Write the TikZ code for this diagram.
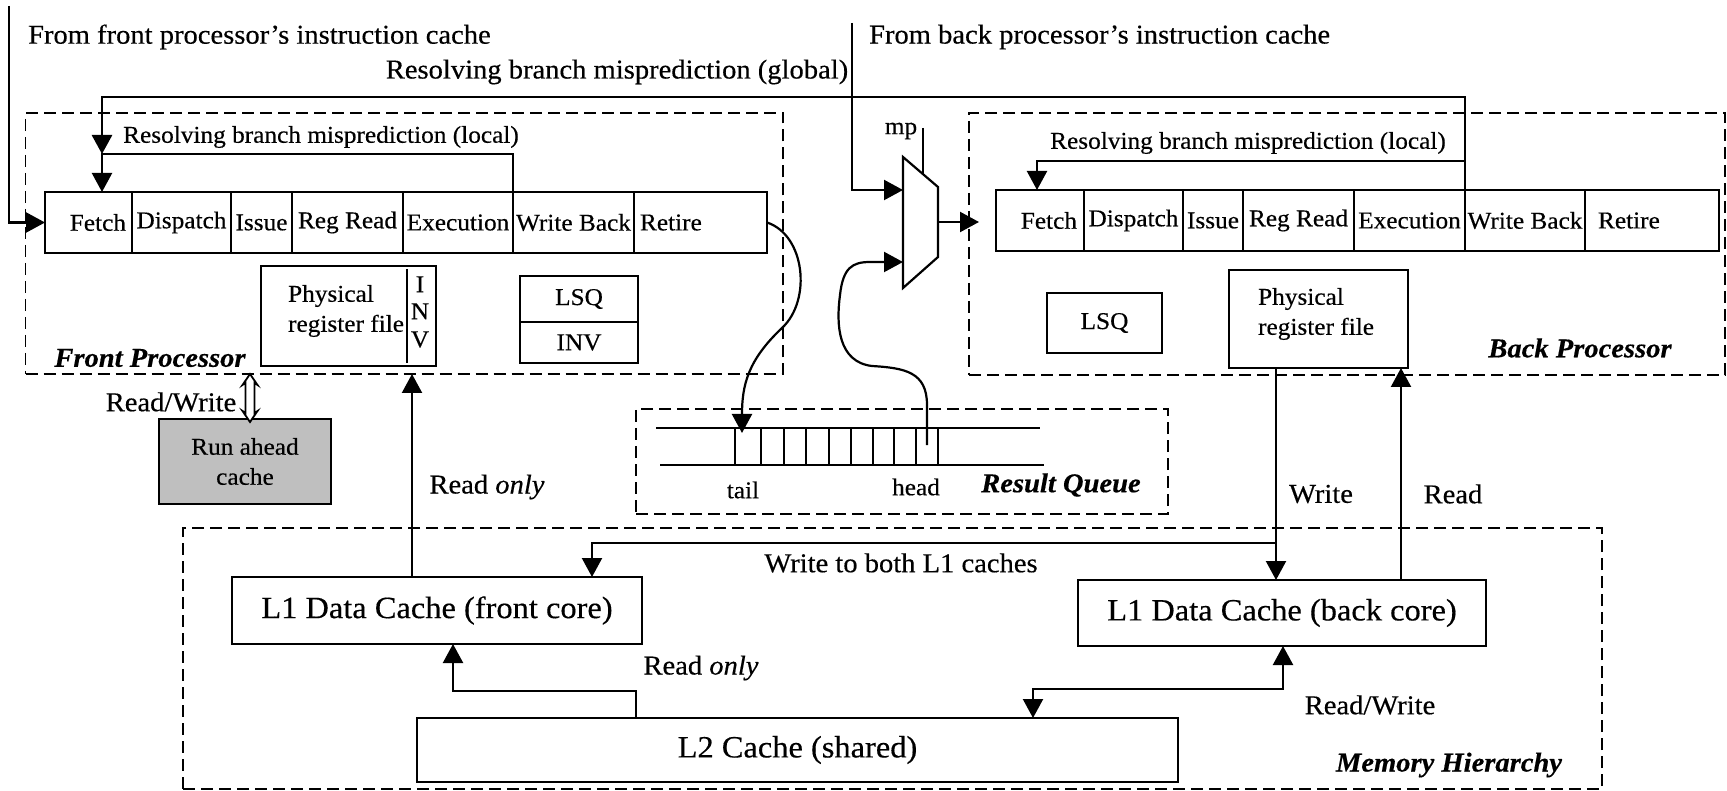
\documentclass[tikz,border=0pt]{standalone}
\usepackage{fontspec}
\setmainfont{Liberation Serif}[FakeStretch=1.05,FakeBold=0.4]
\usetikzlibrary{arrows.meta,calc}
\newcommand{\szS}{\fontsize{24.1}{30}\selectfont}
\newcommand{\szM}{\fontsize{27.2}{32}\selectfont}
\newcommand{\szL}{\fontsize{30.9}{36}\selectfont}

\begin{document}
\begin{tikzpicture}[x=1pt,y=-1pt,
  line width=2.2pt,
  >={Triangle[length=19pt,width=20pt]},
  box/.style={draw, line width=2.2pt, inner sep=0pt, outer sep=0pt, align=center},
  region/.style={draw, dash pattern=on 12pt off 6pt, line width=1.9pt, inner sep=0pt, outer sep=0pt},
  cell/.style={box, minimum height=61pt, font=\szS, anchor=west},
  lbl/.style={inner sep=0pt, font=\szM},
  slbl/.style={inner sep=0pt, font=\szS},
  tag/.style={inner sep=0pt, font=\szM\bfseries\itshape},
]
\fill[white] (0,0) rectangle (1727,791);
\useasboundingbox (0,0) rectangle (1727,791);

% ---------- dashed regions ----------
\node[region, minimum width=757.5, minimum height=261] (fp) at (404.25,243.5) {};
\node[region, minimum width=756, minimum height=262] (bp) at (1347,244) {};
\node[region, minimum width=532, minimum height=105] (rq) at (902,461.5) {};
\node[region, minimum width=1419, minimum height=261] (mh) at (892.5,658.5) {};

\node[tag] (fpT) at (150,358) {Front Processor};
\node[tag] (bpT) at (1580,348) {Back Processor};
\node[tag] (rqT) at (1061,485) {Result Queue};
\node[tag] (mhT) at (1449,765) {Memory Hierarchy};

% ---------- front pipeline ----------
\node[cell, minimum width=87, text width=75, align=right] (pf1) at (45,222.5) {Fetch};
\node[cell, minimum width=99]  (pf2) at (pf1.east) {Dispatch};
\node[cell, minimum width=61]  (pf3) at (pf2.east) {Issue};
\node[cell, minimum width=111] (pf4) at (pf3.east) {Reg Read};
\node[cell, minimum width=110] (pf5) at (pf4.east) {Execution};
\node[cell, minimum width=121] (pf6) at (pf5.east) {Write Back};
\node[cell, minimum width=133, text width=121, align=left] (pf7) at (pf6.east) {Retire};

% ---------- back pipeline ----------
\node[cell, minimum width=88, text width=74, align=right] (pb1) at (996,220.5) {Fetch};
\node[cell, minimum width=99]  (pb2) at (pb1.east) {Dispatch};
\node[cell, minimum width=60]  (pb3) at (pb2.east) {Issue};
\node[cell, minimum width=111] (pb4) at (pb3.east) {Reg Read};
\node[cell, minimum width=111] (pb5) at (pb4.east) {Execution};
\node[cell, minimum width=120] (pb6) at (pb5.east) {Write Back};
\node[cell, minimum width=134, text width=108, align=left] (pb7) at (pb6.east) {Retire};

% ---------- front core storage ----------
\node[box, minimum width=175, minimum height=100] (prff) at (348.5,316) {};
\node[slbl, align=left, anchor=west] (prffT) at (287,311) {Physical\\register file};
\draw ($(prff.north east)+(-29,3)$) -- ($(prff.south east)+(-29,-3)$);
\node[slbl, align=center] (prffI) at (420,312) {I\\[-3pt]N\\[-2pt]V};
\node[box, minimum width=118, minimum height=46, font=\szS] (lsqf) at (579,299) {LSQ};
\node[box, minimum width=118, minimum height=41, font=\szS, anchor=north] (invf) at (lsqf.south) {INV};

% ---------- back core storage ----------
\node[box, minimum width=115, minimum height=60, font=\szS] (lsqb) at (1104.5,323) {LSQ};
\node[box, minimum width=179, minimum height=98] (prfb) at (1318.5,319) {};
\node[slbl, align=left, anchor=west] (prfbT) at (1257,314) {Physical\\register file};

% ---------- run ahead cache ----------
\node[box, fill={rgb,255:red,191;green,191;blue,191}, minimum width=172, minimum height=85, font=\szS] (rac) at (245,461.5) {Run ahead\\cache};

% ---------- memory hierarchy ----------
\node[box, minimum width=410, minimum height=67, font=\szL] (l1f) at (437,610.5) {L1 Data Cache (front core)};
\node[box, minimum width=408, minimum height=66, font=\szL] (l1b) at (1282,613) {L1 Data Cache (back core)};
\node[box, minimum width=761, minimum height=64, font=\szL] (l2) at (797.5,750) {L2 Cache (shared)};

% ---------- multiplexer ----------
\coordinate (mTL) at (903,157);
\coordinate (mTR) at (938,187);
\coordinate (mBR) at (938,257);
\coordinate (mBL) at (903,288);
\draw (mTL) -- (mTR) -- (mBR) -- (mBL) -- cycle;
\coordinate (mI1) at (903,190);
\coordinate (mI2) at (903,262);
\coordinate (mO) at (938,222);
\coordinate (mpT) at (923,128);
\coordinate (mpB) at (923,174);
\draw[line width=1.8pt] (mpT) -- (mpB);
\node[slbl] (mpL) at (901,131) {mp};

% ---------- result queue ----------
\coordinate (qT0) at (656,428);
\coordinate (qT1) at (1040,428);
\coordinate (qB0) at (660,465);
\coordinate (qB1) at (1044,465);
\draw (qT0) -- (qT1);
\draw (qB0) -- (qB1);
\foreach \x in {735,761,784,806,829,851,873,894,916,938}
  \draw (\x,428) -- (\x,465);
\coordinate (qTail) at (742,433);
\coordinate (qHead) at (927,445);
\node[slbl] (tailL) at (743,490) {tail};
\node[slbl] (headL) at (916,487) {head};

% ---------- top labels ----------
\node[lbl, anchor=west] (t1) at (27,37) {From front processor’s instruction cache};
\node[lbl, anchor=west] (t2) at (868,37) {From back processor’s instruction cache};
\node[lbl] (tg) at (617,72) {Resolving branch misprediction (global)};
\node[slbl] (tlf) at (321,137) {Resolving branch misprediction (local)};
\node[slbl] (tlb) at (1248,143) {Resolving branch misprediction (local)};

% ---------- instruction inputs ----------
\coordinate (fin) at (9,6);
\draw[->] (fin) |- (pf1.west);
\coordinate (bin) at (852,23);
\draw[->] (bin) |- (mI1);
\draw[->, shorten >=-10pt] (mO) -- (mO -| bp.west);

% ---------- misprediction recovery ----------
\coordinate (fA) at ($(pf1.north west)+(57,0)$);
\coordinate (fL) at ($(fA)+(0,-38)$);
\coordinate (gY) at (0,97);
\draw[->, line width=2.8pt] (pb6.north west) |- (gY -| fA) -- (fL);
\draw[->] (pf6.north west) |- (fL) -- (fA);
\coordinate (bA) at ($(pb1.north west)+(41,0)$);
\draw[->] (pb6.north west) |- ($(bA)+(0,-29)$) -- (bA);

% ---------- result queue traffic ----------
\draw[->] (pf7.east) .. controls (805,235) and (812,300) .. (782,328)
  .. controls (748,360) and (742,385) .. (qTail);
\draw[->] (qHead) -- (927,405) .. controls (927,372) and (905,368) .. (872,366)
  .. controls (838,362) and (836,325) .. (840,295)
  .. controls (843,268) and (852,262) .. (870,262) -- (mI2);

% ---------- run ahead cache access ----------
\coordinate (rwT) at (250,374);
\draw[fill=white, line width=1.8pt] (rwT) -- ++(7.5,11) -- ++(-3,-2) -- ++(0,30) -- ++(3,-2)
  -- ++(-7.5,11) -- ++(-7.5,-11) -- ++(3,2) -- ++(0,-30) -- ++(-3,2) -- cycle;
\node[lbl] (rwL) at (171,402) {Read/Write};

% ---------- data cache traffic ----------
\coordinate (roA) at ($(l1f.north west)+(180,0)$);
\draw[->] (roA) -- (roA |- fp.south);
\node[lbl] (roL) at (487,487) {Read \textit{only}};

\coordinate (wA) at ($(prfb.south west)+(47,0)$);
\draw[->] (wA) -- (wA |- l1b.north);
\node[lbl] (wL) at (1321,494) {Write};
\coordinate (rA) at ($(l1b.north west)+(323,0)$);
\draw[->] (rA) -- (rA |- prfb.south);
\node[lbl] (rL) at (1453,494) {Read};

\coordinate (wY) at (0,543);
\coordinate (l1fW) at ($(l1f.north west)+(360,0)$);
\draw[->] (wA |- wY) -| (l1fW);
\node[lbl] (wbL) at (901,563) {Write to both L1 caches};

\coordinate (l2A) at ($(l2.north west)+(219,0)$);
\coordinate (l1fB) at ($(l1f.south west)+(221,0)$);
\draw[->] (l2A) -- ++(0,-27) -| (l1fB);
\node[lbl] (ro2L) at (701,668) {Read \textit{only}};

\coordinate (l2B) at ($(l2.north west)+(616,0)$);
\coordinate (l1bB) at ($(l1b.south west)+(205,0)$);
\draw[<->] (l2B) -- ++(0,-29) -| (l1bB);
\node[lbl] (rw2L) at (1370,705) {Read/Write};
\end{tikzpicture}
\end{document}
